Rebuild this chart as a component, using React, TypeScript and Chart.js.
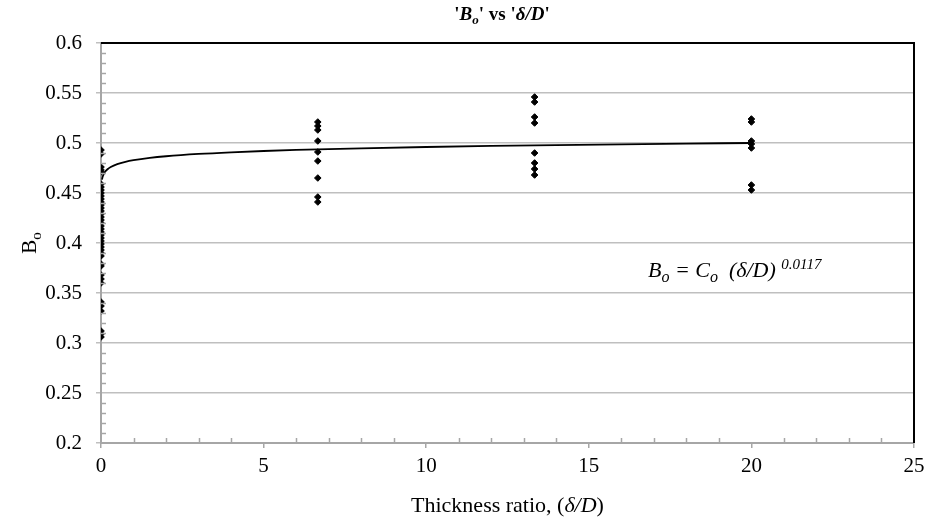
import React, { useEffect, useRef } from "react";
import { Chart, registerables } from "chart.js";

Chart.register(...registerables);

// ---- data ----
const GROUP_X = [0, 20 / 3, 40 / 3, 20];
const VALUES_X0 = [
  0.493, 0.489, 0.476, 0.473, 0.471, 0.459, 0.456, 0.453, 0.45, 0.447, 0.444,
  0.441, 0.438, 0.435, 0.432, 0.429, 0.426, 0.423, 0.42, 0.417, 0.414, 0.411,
  0.408, 0.405, 0.402, 0.399, 0.396, 0.393, 0.39, 0.387, 0.379, 0.377, 0.368,
  0.364, 0.36, 0.341, 0.337, 0.332, 0.312, 0.309, 0.306,
];
const VALUES_X667 = [0.521, 0.517, 0.513, 0.502, 0.491, 0.482, 0.465, 0.446, 0.441];
const VALUES_X1333 = [0.546, 0.541, 0.526, 0.52, 0.49, 0.48, 0.474, 0.468];
const VALUES_X20 = [0.524, 0.521, 0.502, 0.499, 0.495, 0.458, 0.453];
const GROUP_VALUES = [VALUES_X0, VALUES_X667, VALUES_X1333, VALUES_X20];

// power trendline  B_o = C_o (δ/D)^0.0117
const TREND_C = 0.4828;
const TREND_EXP = 0.0117;
const TREND_X = [0.03, 0.05, 0.08, 0.12, 0.2, 0.3, 0.5, 0.75, 1, 1.5, 2, 3, 4, 5, 6, 8, 10, 12, 14, 16, 18, 20];

const Y_TICKS = ["0.2", "0.25", "0.3", "0.35", "0.4", "0.45", "0.5", "0.55", "0.6"];
const X_TICKS = ["0", "5", "10", "15", "20", "25"];

const SERIF = '"Liberation Serif", "Times New Roman", serif';

type Seg = { t: string; font: string; dy?: number };

function drawSegs(ctx: CanvasRenderingContext2D, segs: Seg[], x: number, y: number, align: "left" | "center") {
  let total = 0;
  for (const s of segs) {
    ctx.font = s.font;
    total += ctx.measureText(s.t).width;
  }
  let cx = align === "center" ? x - total / 2 : x;
  ctx.textBaseline = "alphabetic";
  ctx.textAlign = "left";
  for (const s of segs) {
    ctx.font = s.font;
    ctx.fillText(s.t, cx, y + (s.dy || 0));
    cx += ctx.measureText(s.t).width;
  }
}

const decorPlugin = {
  id: "decor",
  afterDraw(chart: any) {
    const ctx: CanvasRenderingContext2D = chart.ctx;
    const { left, right, top, bottom } = chart.chartArea;
    const xs = chart.scales.x;
    const ys = chart.scales.y;
    ctx.save();

    // minor ticks
    ctx.strokeStyle = "#a6a6a6";
    ctx.lineWidth = 1.5;
    ctx.beginPath();
    for (let i = 1; i < 25; i++) {
      if (i % 5 === 0) continue;
      const px = Math.round(xs.getPixelForValue(i)) + 0.5;
      ctx.moveTo(px, bottom);
      ctx.lineTo(px, bottom - 5);
    }
    for (let i = 21; i < 60; i++) {
      if (i % 5 === 0) continue;
      const py = Math.round(ys.getPixelForValue(i / 100)) + 0.5;
      ctx.moveTo(left, py);
      ctx.lineTo(left + 5, py);
    }
    ctx.stroke();

    // top and right border
    ctx.strokeStyle = "#000";
    ctx.lineWidth = 2;
    ctx.beginPath();
    ctx.moveTo(left, top);
    ctx.lineTo(right, top);
    ctx.lineTo(right, bottom);
    ctx.stroke();

    ctx.fillStyle = "#000";
    // title
    drawSegs(
      ctx,
      [
        { t: "'", font: `bold 19px ${SERIF}` },
        { t: "B", font: `italic bold 19px ${SERIF}` },
        { t: "o", font: `italic bold 13px ${SERIF}`, dy: 4 },
        { t: "' vs '", font: `bold 19px ${SERIF}` },
        { t: "δ/D", font: `italic bold 19px ${SERIF}` },
        { t: "'", font: `bold 19px ${SERIF}` },
      ],
      502,
      20,
      "center"
    );

    // x axis title
    drawSegs(
      ctx,
      [
        { t: "Thickness ratio, (", font: `22px ${SERIF}` },
        { t: "δ/D", font: `italic 22px ${SERIF}` },
        { t: ")", font: `22px ${SERIF}` },
      ],
      (left + right) / 2,
      512,
      "center"
    );

    // y axis title (rotated)
    ctx.save();
    ctx.translate(36, (top + bottom) / 2);
    ctx.rotate(-Math.PI / 2);
    drawSegs(
      ctx,
      [
        { t: "B", font: `21px ${SERIF}` },
        { t: "o", font: `15px ${SERIF}`, dy: 5 },
      ],
      0,
      0,
      "center"
    );
    ctx.restore();

    // equation
    drawSegs(
      ctx,
      [
        { t: "B", font: `italic 22px ${SERIF}` },
        { t: "o", font: `italic 16px ${SERIF}`, dy: 5 },
        { t: " = C", font: `italic 22px ${SERIF}` },
        { t: "o", font: `italic 16px ${SERIF}`, dy: 5 },
        { t: "  (δ/D) ", font: `italic 22px ${SERIF}` },
        { t: "0.0117", font: `italic 15px ${SERIF}`, dy: -8 },
      ],
      648,
      277,
      "left"
    );

    ctx.restore();
  },
};

export default function App() {
  const ref = useRef<HTMLCanvasElement | null>(null);

  useEffect(() => {
    document.body.style.margin = "0";
    if (!ref.current) return;

    const points: { x: number; y: number }[] = [];
    GROUP_X.forEach((gx, gi) => {
      GROUP_VALUES[gi].forEach((v) => points.push({ x: gx, y: v }));
    });
    const trend = TREND_X.map((x) => ({ x, y: TREND_C * Math.pow(x, TREND_EXP) }));

    const chart = new Chart(ref.current, {
      type: "scatter",
      data: {
        datasets: [
          {
            type: "line",
            data: trend,
            borderColor: "#000",
            borderWidth: 1.8,
            pointRadius: 0,
            cubicInterpolationMode: "monotone",
            fill: false,
          } as any,
          {
            data: points,
            pointStyle: "rectRot",
            pointRadius: 3.3,
            pointBackgroundColor: "#000",
            pointBorderColor: "#000",
            pointBorderWidth: 1,
          },
        ],
      },
      options: {
        animation: false,
        responsive: true,
        maintainAspectRatio: false,
        layout: { padding: { top: 43, right: 26, left: 0, bottom: 0 } },
        plugins: {
          legend: { display: false },
          tooltip: { enabled: false },
          title: { display: false },
        },
        scales: {
          x: {
            type: "linear",
            min: 0,
            max: 25,
            afterFit: (s: any) => {
              s.height = 78;
            },
            ticks: {
              stepSize: 5,
              color: "#000",
              font: { family: SERIF, size: 21 },
              padding: 6,
              callback: (v: any) => X_TICKS[Math.round(Number(v) / 5)] ?? "",
            },
            grid: {
              display: true,
              drawOnChartArea: false,
              drawTicks: true,
              tickLength: 5,
              color: "#a6a6a6",
              lineWidth: 1.5,
            },
            border: { display: true, color: "#a6a6a6", width: 2 },
          },
          y: {
            type: "linear",
            min: 0.2,
            max: 0.6,
            afterFit: (s: any) => {
              s.width = 101;
            },
            ticks: {
              stepSize: 0.05,
              color: "#000",
              font: { family: SERIF, size: 21 },
              padding: 14,
              callback: (v: any) => Y_TICKS[Math.round((Number(v) - 0.2) / 0.05)] ?? "",
            },
            grid: {
              display: true,
              drawOnChartArea: true,
              drawTicks: true,
              tickLength: 5,
              color: "#bfbfbf",
              lineWidth: 1.5,
            },
            border: { display: true, color: "#a6a6a6", width: 2 },
          },
        },
      },
      plugins: [decorPlugin],
    });

    return () => chart.destroy();
  }, []);

  return (
    <div style={{ width: 940, height: 521, position: "relative", background: "#fff" }}>
      <canvas ref={ref} />
    </div>
  );
}
